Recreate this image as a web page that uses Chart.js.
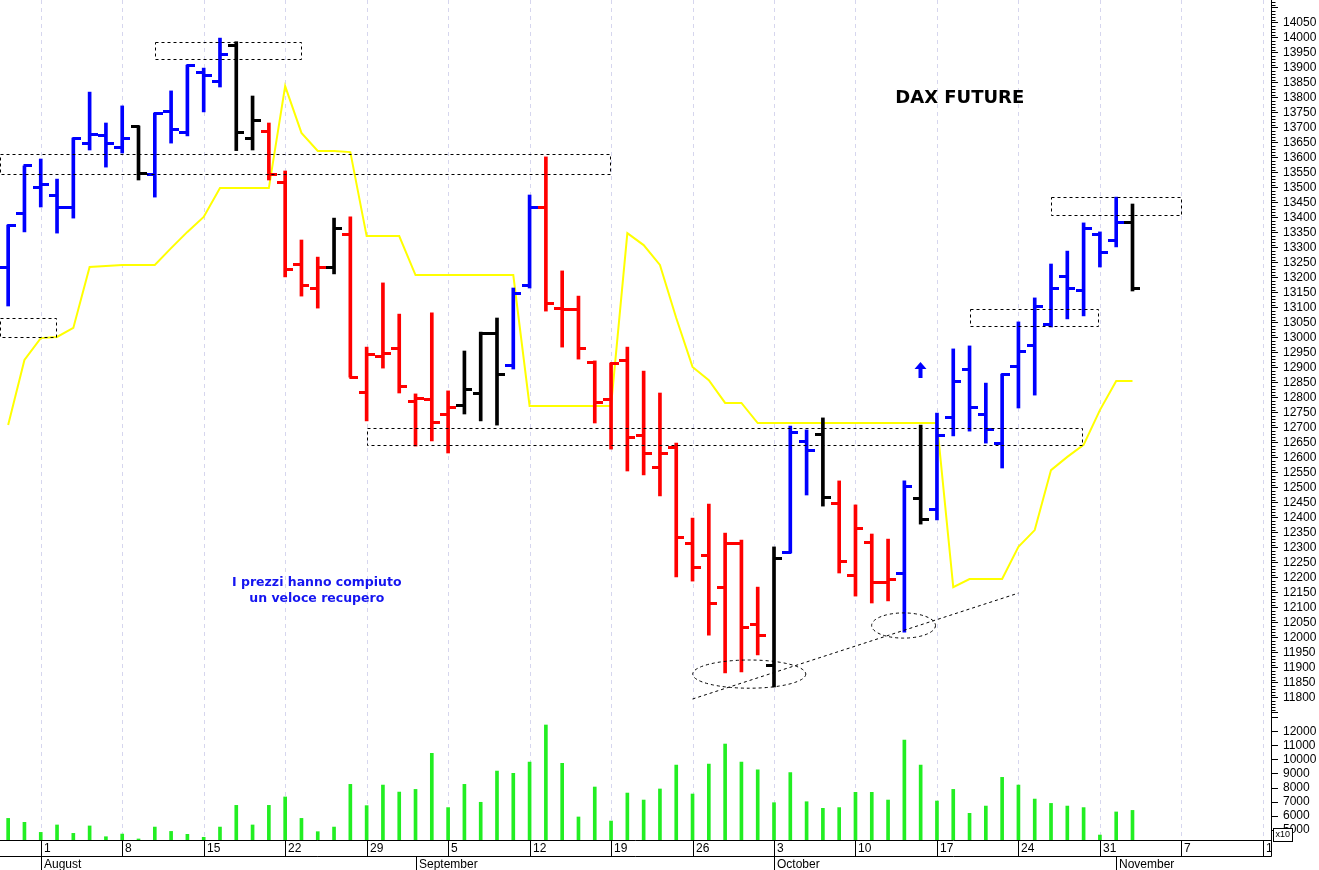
<!DOCTYPE html>
<html>
<head>
<meta charset="utf-8">
<script src="https://cdn.jsdelivr.net/npm/chart.js@4.4.1/dist/chart.umd.min.js"></script>
<style>
  html, body { margin: 0; padding: 0; background: #fff; }
  #wrap { width: 1319px; height: 870px; }
</style>
</head>
<body>
<div id="wrap"><canvas id="dax"></canvas></div>
<script>
// trading-day index: 0 = Mon 1 Aug 2022, first bar is Thu 28 Jul
const firstDay = -2;

const openP = [13232, 13415, 13500, 13475, 13432, 13648, 13672, 13632, 13705, 13545,
  13752, 13682, 13885, 13852, 13972, 13662, 13688, 13518, 13245, 13162,
  13232, 13342, 12818, 12938, 12962, 12788, 12795, 12745, 12775, 12815,
  13012, 12908, 13172, 13435, 13098, 13092, 12918, 12792, 12925, 12675,
  12568, 12632, 12315, 12275, 12168, 12312, 12042, 11908, 12285, 12652,
  12678, 12448, 12208, 12318, 12182, 12215, 12465, 12428, 12735, 12892,
  12745, 12648, 12905, 12975, 13042, 13205, 13158, 13345, 13322, 13382];
const highP = [13375, 13572, 13595, 13528, 13665, 13818, 13715, 13772, 13705, 13748,
  13822, 13908, 13898, 13998, 13986, 13805, 13715, 13555, 13325, 13268,
  13398, 13402, 12968, 13182, 13078, 12812, 13082, 12822, 12955, 13018,
  13065, 13165, 13475, 13602, 13222, 13138, 12922, 12915, 12968, 12888,
  12815, 12648, 12398, 12445, 12348, 12325, 12168, 12302, 12705, 12692,
  12732, 12522, 12442, 12345, 12328, 12522, 12708, 12748, 12962, 12972,
  12848, 12878, 13052, 13132, 13245, 13288, 13382, 13352, 13468, 13445];
const lowP = [13105, 13352, 13435, 13348, 13398, 13625, 13568, 13615, 13525, 13468,
  13648, 13672, 13752, 13835, 13623, 13625, 13525, 13202, 13138, 13098,
  13212, 12868, 12722, 12898, 12815, 12638, 12655, 12615, 12745, 12722,
  12708, 12895, 13165, 13088, 12968, 12928, 12715, 12628, 12555, 12542,
  12472, 12202, 12188, 12008, 11882, 11885, 11942, 11835, 12282, 12475,
  12438, 12215, 12138, 12115, 12122, 12018, 12378, 12392, 12672, 12688,
  12648, 12565, 12765, 12808, 13035, 13062, 13072, 13235, 13302, 13155];
const closeP = [13375, 13572, 13510, 13435, 13665, 13678, 13648, 13665, 13548, 13748,
  13692, 13908, 13872, 13945, 13683, 13725, 13545, 13228, 13172, 13232,
  13362, 12868, 12942, 12948, 12838, 12798, 12718, 12768, 12828, 13012,
  12878, 13148, 13432, 13115, 13095, 12962, 12785, 12912, 12668, 12615,
  12615, 12335, 12235, 12112, 12315, 12032, 12008, 12265, 12685, 12622,
  12468, 12252, 12365, 12182, 12195, 12502, 12395, 12675, 12852, 12768,
  12695, 12878, 12955, 13105, 13165, 13165, 13365, 13285, 13385, 13165];
// 1 = rialzo (blu), -1 = ribasso (rosso), 0 = neutro (nero)
const signal = [1, 1, 1, 1, 1, 1, 1, 1, 0, 1,
  1, 1, 1, 1, 0, 0, -1, -1, -1, -1,
  0, -1, -1, -1, -1, -1, -1, -1, 0, 0,
  0, 1, 1, -1, -1, -1, -1, -1, -1, -1,
  -1, -1, -1, -1, -1, -1, -1, 0, 1, 1,
  0, -1, -1, -1, -1, 1, 0, 1, 1, 1,
  1, 1, 1, 1, 1, 1, 1, 1, 1, 0];
const volume = [5830, 5550, 4830, 5360, 4760, 5290, 4520, 4710, 4360, 5210,
  4900, 4690, 4480, 5210, 6760, 5360, 6760, 7360, 5830, 4880,
  5210, 8260, 6740, 8210, 7710, 7900, 10480, 6600, 8260, 6980,
  9210, 9050, 9860, 12500, 9760, 5930, 8070, 5640, 7640, 7140,
  7930, 9640, 7570, 9710, 11140, 9860, 9290, 6950, 9100, 7020,
  6550, 6600, 7690, 7690, 7140, 11430, 9640, 7070, 7900, 6190,
  6710, 8760, 8210, 7210, 6900, 6710, 6600, 4640, 6290, 6400];
const stopLine = [12708, 12925, 12998, 13002, 13032, 13235, 13238, 13242, 13242, 13242,
  13298, 13352, 13402, 13498, 13498, 13498, 13498, 13838, 13682, 13622,
  13622, 13618, 13338, 13338, 13338, 13208, 13208, 13208, 13208, 13208,
  13208, 13208, 12772, 12772, 12772, 12772, 12772, 12772, 13348, 13308,
  13242, 13065, 12902, 12858, 12782, 12782, 12715, 12715, 12715, 12715,
  12715, 12715, 12715, 12715, 12715, 12715, 12715, 12715, 12168, 12195,
  12195, 12195, 12302, 12358, 12558, 12602, 12642, 12758, 12855, 12855];

const weekLabels = ['1', '8', '15', '22', '29', '5', '12', '19', '26', '3', '10', '17', '24', '31', '7', '14'];
const monthNames = ['August', 'September', 'October', 'November'];
const monthStart = [0, 23, 45, 66];
const volumeTicks = [5000, 6000, 7000, 8000, 9000, 10000, 11000, 12000, 13000];

// supporti / resistenze: [giorno inizio, giorno fine, prezzo basso, prezzo alto]
const zones = [[7, 16, 13928, 13985], [-2.5, 34.95, 13545, 13612], [-2.5, 0.93, 13002, 13065],
  [20, 63.9, 12642, 12698], [57, 64.9, 13038, 13095], [62, 69.95, 13408, 13468]];
// minimi cerchiati: [giorno, prezzo, semiasse giorni, semiasse prezzo]
const rings = [[43.48, 11878, 3.47, 47], [52.95, 12040, 1.96, 42]];
const trend = [[40, 11795], [60, 12148]];

const colorOf = s => s > 0 ? '#0000ff' : s < 0 ? '#ff0000' : '#000000';
const xs = highP.map((_, k) => firstDay + k);

function tickImg(color, side) {
  const c = document.createElement('canvas');
  c.width = 16; c.height = 3;
  const g = c.getContext('2d');
  g.fillStyle = color;
  if (side < 0) g.fillRect(0, 0, 9, 3); else g.fillRect(7, 0, 9, 3);
  return c;
}
const tickStyle = {};
[1, -1, 0].forEach(s => { tickStyle[s] = { l: tickImg(colorOf(s), -1), r: tickImg(colorOf(s), 1) }; });

const FONT = '"Liberation Sans", Arial, sans-serif';

const overlay = {
  id: 'overlay',
  beforeDatasetsDraw(chart) {
    const { ctx, chartArea: a, scales: { x } } = chart;
    ctx.save();
    ctx.strokeStyle = '#d6d6ee';
    ctx.lineWidth = 1;
    ctx.setLineDash([4, 4]);
    weekLabels.forEach((_, w) => {
      const px = Math.round(x.getPixelForValue(w * 5)) + 0.5;
      ctx.beginPath(); ctx.moveTo(px, a.top); ctx.lineTo(px, a.bottom); ctx.stroke();
    });
    ctx.restore();
  },
  afterDatasetsDraw(chart) {
    const { ctx, scales: { x, y } } = chart;
    ctx.save();
    ctx.strokeStyle = '#000';
    ctx.lineWidth = 1;
    ctx.setLineDash([3, 3]);
    zones.forEach(([d0, d1, p0, p1]) => {
      const x0 = Math.round(x.getPixelForValue(d0)) + 0.5, x1 = Math.round(x.getPixelForValue(d1)) + 0.5;
      const y0 = Math.round(y.getPixelForValue(p1)) + 0.5, y1 = Math.round(y.getPixelForValue(p0)) + 0.5;
      ctx.strokeRect(x0, y0, x1 - x0, y1 - y0);
    });
    rings.forEach(([d, p, rd, rp]) => {
      const cx = x.getPixelForValue(d), cy = y.getPixelForValue(p);
      ctx.beginPath();
      ctx.ellipse(cx, cy, x.getPixelForValue(d + rd) - cx, cy - y.getPixelForValue(p + rp), 0, 0, Math.PI * 2);
      ctx.stroke();
    });
    ctx.beginPath();
    ctx.moveTo(x.getPixelForValue(trend[0][0]), y.getPixelForValue(trend[0][1]));
    ctx.lineTo(x.getPixelForValue(trend[1][0]), y.getPixelForValue(trend[1][1]));
    ctx.stroke();
    ctx.setLineDash([]);

    // freccia blu
    const ax = Math.round(x.getPixelForValue(54)) - 0.5, ay = y.getPixelForValue(12918);
    ctx.fillStyle = '#0000ff';
    ctx.beginPath();
    ctx.moveTo(ax, ay); ctx.lineTo(ax + 6, ay + 7); ctx.lineTo(ax + 2, ay + 7);
    ctx.lineTo(ax + 2, ay + 16); ctx.lineTo(ax - 2, ay + 16); ctx.lineTo(ax - 2, ay + 7);
    ctx.lineTo(ax - 6, ay + 7); ctx.closePath(); ctx.fill();

    ctx.textAlign = 'center';
    ctx.textBaseline = 'middle';
    ctx.fillStyle = '#000';
    ctx.font = 'bold 18px "DejaVu Sans", Verdana, sans-serif';
    ctx.fillText('DAX FUTURE', x.getPixelForValue(56.4), y.getPixelForValue(13798));
    ctx.fillStyle = '#1515f0';
    ctx.font = 'bold 12.5px "DejaVu Sans", Verdana, sans-serif';
    ctx.fillText('I prezzi hanno compiuto', x.getPixelForValue(16.94), y.getPixelForValue(12182));
    ctx.fillText('un veloce recupero', x.getPixelForValue(16.94), y.getPixelForValue(12128));
    ctx.restore();
  },
  afterDraw(chart) {
    const { ctx, chartArea: a, scales: { x, y } } = chart;
    ctx.save();
    ctx.strokeStyle = '#000';
    ctx.lineWidth = 1;
    const top = Math.round(a.bottom) + 0.5, mid = top + 16, right = Math.round(a.right) + 0.5;
    ctx.beginPath();
    ctx.moveTo(0, top); ctx.lineTo(right, top);
    ctx.moveTo(0, mid); ctx.lineTo(right, mid);
    ctx.moveTo(right, top); ctx.lineTo(right, mid);
    weekLabels.forEach((_, w) => {
      const px = Math.round(x.getPixelForValue(w * 5)) + 0.5;
      ctx.moveTo(px, top); ctx.lineTo(px, mid);
    });
    monthStart.forEach(d => {
      const px = Math.round(x.getPixelForValue(d)) + 0.5;
      ctx.moveTo(px, mid); ctx.lineTo(px, chart.height);
    });
    // tacche minori asse prezzi
    for (let v = 11750; v <= 14120; v += 10) {
      if (v % 50 === 0) continue;
      const py = Math.round(y.getPixelForValue(v)) + 0.5;
      ctx.moveTo(right, py); ctx.lineTo(right + 4, py);
    }
    ctx.stroke();

    ctx.fillStyle = '#000';
    ctx.font = '12px ' + FONT;
    ctx.textBaseline = 'middle';
    ctx.save();
    ctx.beginPath(); ctx.rect(0, top, right - 0.5, 16); ctx.clip();
    weekLabels.forEach((t, w) => ctx.fillText(t, Math.round(x.getPixelForValue(w * 5)) + 3, top + 8.5));
    ctx.restore();
    monthNames.forEach((t, k) => ctx.fillText(t, Math.round(x.getPixelForValue(monthStart[k])) + 3, mid + 8));

    // riquadro moltiplicatore volumi
    ctx.fillStyle = '#fff';
    ctx.fillRect(right + 2, top - 12, 19, 13);
    ctx.strokeRect(right + 2, top - 12, 19, 13);
    ctx.fillStyle = '#000';
    ctx.font = '9px ' + FONT;
    ctx.fillText('x10', right + 4, top - 5.5);
    ctx.restore();
  }
};

const axisFit = s => { s.width = 48; s.paddingTop = 0; s.paddingBottom = 0; };

new Chart(document.getElementById('dax'), {
  type: 'bar',
  data: {
    datasets: [
      {
        type: 'scatter', yAxisID: 'y', order: 0,
        data: xs.map((x, k) => ({ x, y: openP[k] })),
        pointStyle: c => tickStyle[signal[c.dataIndex]].l, pointRadius: 4
      },
      {
        type: 'scatter', yAxisID: 'y', order: 0,
        data: xs.map((x, k) => ({ x, y: closeP[k] })),
        pointStyle: c => tickStyle[signal[c.dataIndex]].r, pointRadius: 4
      },
      {
        type: 'bar', yAxisID: 'y', order: 1, grouped: false,
        data: xs.map((x, k) => ({ x, y: [lowP[k], highP[k]] })),
        backgroundColor: signal.map(colorOf), barThickness: 3, borderWidth: 0
      },
      {
        type: 'bar', yAxisID: 'yv', order: 2, grouped: false,
        data: xs.map((x, k) => ({ x, y: volume[k] })),
        backgroundColor: '#22ee22', barThickness: 3, borderWidth: 0
      },
      {
        type: 'line', yAxisID: 'y', order: 3,
        data: xs.map((x, k) => ({ x, y: stopLine[k] })),
        borderColor: '#ffff00', borderWidth: 2, pointRadius: 0, tension: 0, fill: false
      }
    ]
  },
  options: {
    responsive: true,
    maintainAspectRatio: false,
    devicePixelRatio: 1,
    animation: false,
    events: [],
    layout: { autoPadding: false, padding: { left: 0, right: 0, top: 0, bottom: 30 } },
    plugins: { legend: { display: false }, tooltip: { enabled: false } },
    scales: {
      x: { type: 'linear', min: -2.5, max: 75.5, offset: false, display: false },
      y: {
        type: 'linear', position: 'right', stack: 'right', stackWeight: 715,
        min: 11741.7, max: 14125,
        ticks: {
          stepSize: 50, includeBounds: false, autoSkip: false, padding: 5,
          color: '#000', font: { family: FONT, size: 12 },
          callback: v => (v >= 11800 && v <= 14050) ? String(v) : ''
        },
        grid: { drawOnChartArea: false, drawTicks: true, tickLength: 7, color: '#000' },
        border: { display: true, color: '#000' },
        afterFit: axisFit
      },
      yv: {
        type: 'linear', position: 'right', stack: 'right', stackWeight: 125,
        min: 4286, max: 13214,
        afterBuildTicks: s => { s.ticks = volumeTicks.map(v => ({ value: v })); },
        ticks: {
          autoSkip: false, padding: 5,
          color: '#000', font: { family: FONT, size: 12 },
          callback: v => (v >= 5000 && v <= 12000) ? String(v) : ''
        },
        grid: { drawOnChartArea: false, drawTicks: true, tickLength: 7, color: '#000' },
        border: { display: true, color: '#000' },
        afterFit: axisFit
      }
    }
  },
  plugins: [overlay]
});
</script>
</body>
</html>
